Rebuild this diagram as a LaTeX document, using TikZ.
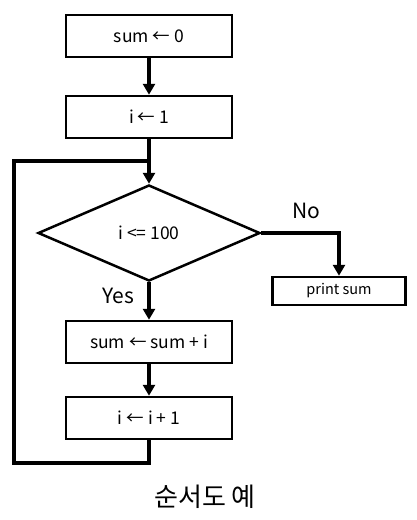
\documentclass[tikz,border=0pt]{standalone}
\usepackage{fontspec}
\setmainfont{Noto Sans CJK KR}
\usetikzlibrary{shapes.geometric,arrows.meta}
\begin{document}
\begin{tikzpicture}[x=1pt,y=-1pt,
  box/.style={draw, line width=2.5pt, minimum width=166pt, minimum height=42pt,
    inner sep=0pt, font=\fontsize{17.5}{20}\selectfont},
  smallbox/.style={draw, line width=2.5pt, minimum width=133pt, minimum height=28pt,
    inner sep=0pt, font=\fontsize{14.5}{16}\selectfont},
  decision/.style={draw, diamond, line width=2.5pt, minimum width=222pt,
    minimum height=96pt, inner sep=0pt, font=\fontsize{17.5}{20}\selectfont},
  flow/.style={line width=3.5pt, -{Triangle[length=11pt,width=12pt]}},
  plain/.style={line width=3.5pt},
  lbl/.style={font=\fontsize{21}{23}\selectfont, inner sep=0pt}]
\useasboundingbox (0,0) rectangle (417,520);

% process steps
\node[box] (init)  at (149,36)  {sum ← 0};
\node[box] (seti)  at (149,117) {i ← 1};
\node[decision] (test) at (149,233) {i <= 100};
\node[box] (add)   at (149,342) {sum ← sum + i};
\node[box] (inc)   at (149,418) {i ← i + 1};
\node[smallbox] (out) at (339,291) {print sum};

% loop routing points
\coordinate (join) at (149,161);
\coordinate (lowR) at (149,463);
\coordinate (lowL) at (14,463);

% connectors
\draw[flow] (init) -- (seti);
\draw[plain] (seti) -- (join);
\draw[flow] (join) -- (test.north);
\draw[flow] (test.south) -- (add);
\draw[flow] (add) -- (inc);
\draw[flow] (test.east) -| (out.north);
\draw[plain, line join=miter] (inc.south) -- (lowR) -- (lowL) |- (join);

% branch labels
\node[lbl] (no)  at (306,211) {No};
\node[lbl] (yes) at (118,296) {Yes};

% caption
\node[font=\fontsize{26}{28}\selectfont, inner sep=0pt] (cap) at (205,497) {순서도 예};
\end{tikzpicture}
\end{document}
